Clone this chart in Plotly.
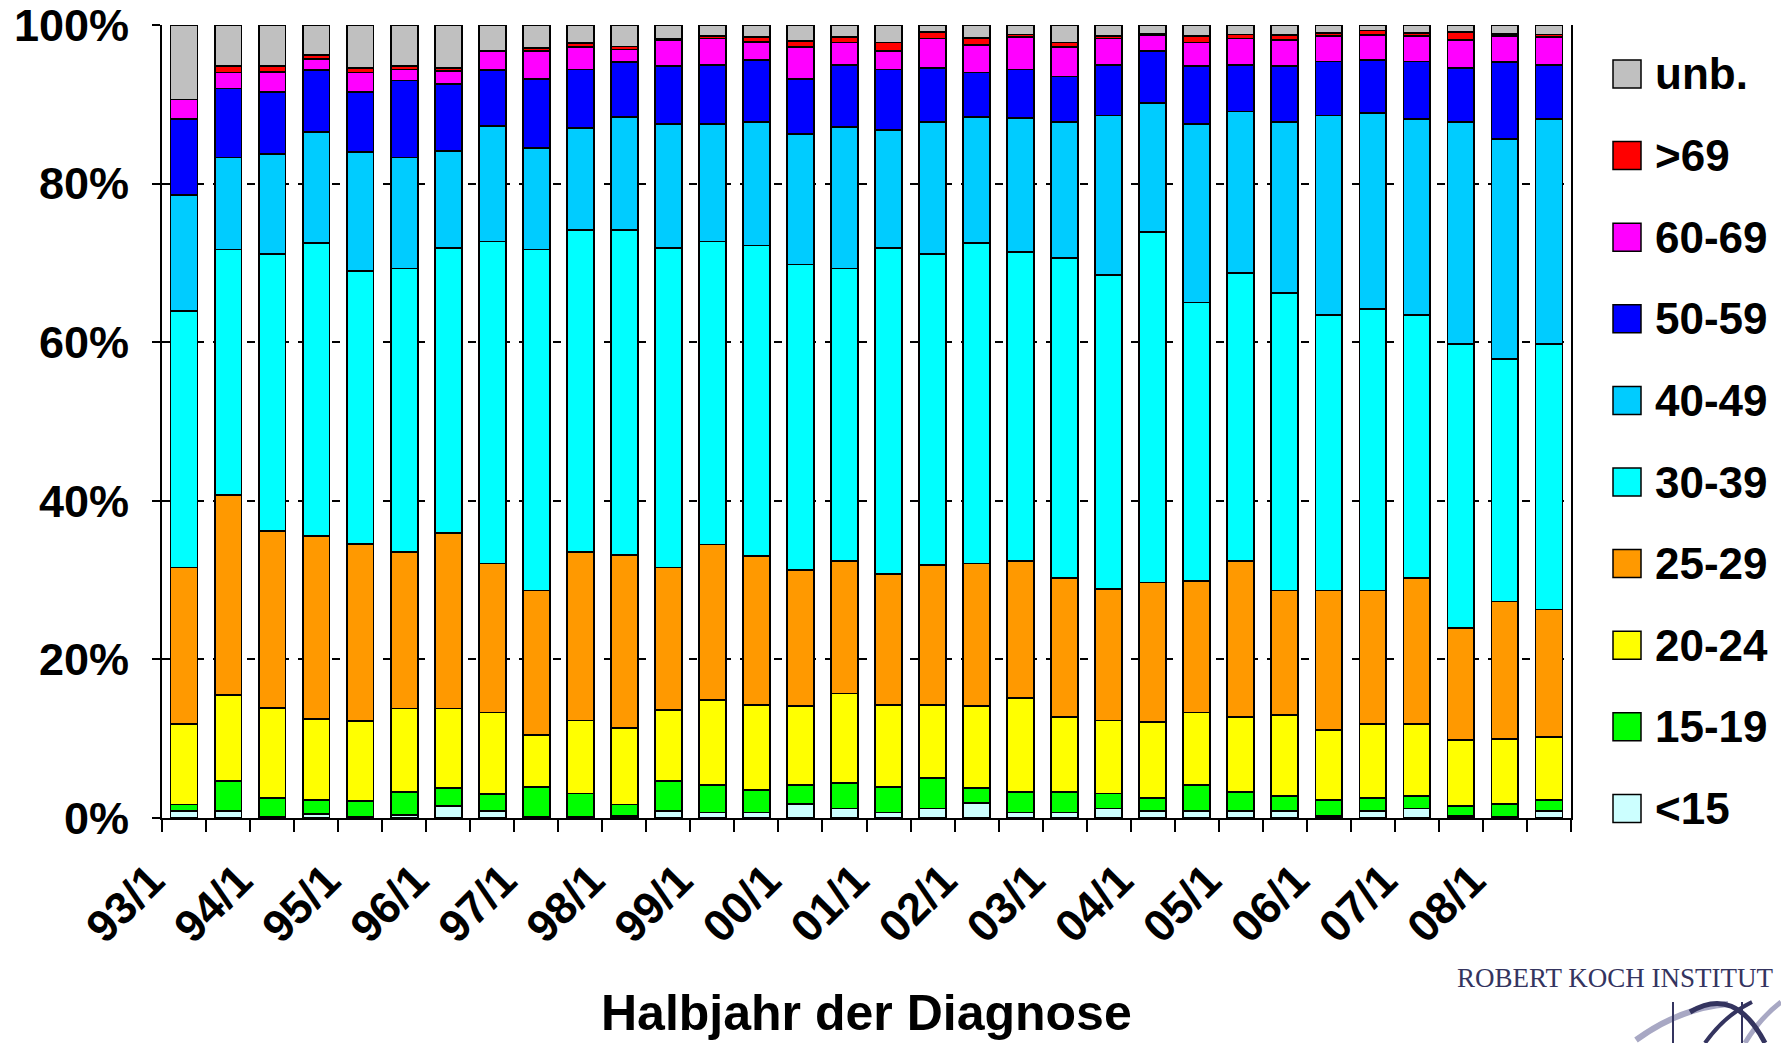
# import libraries
import plotly.graph_objects as go

# half-year labels of the diagnosis (93/1 ... 08/2)
periods = ["93/1", "93/2", "94/1", "94/2", "95/1", "95/2", "96/1", "96/2",
           "97/1", "97/2", "98/1", "98/2", "99/1", "99/2", "00/1", "00/2",
           "01/1", "01/2", "02/1", "02/2", "03/1", "03/2", "04/1", "04/2",
           "05/1", "05/2", "06/1", "06/2", "07/1", "07/2", "08/1", "08/2"]

# only every first half-year gets a label
tick_labels = ["93/1", "94/1", "95/1", "96/1", "97/1", "98/1", "99/1", "00/1",
               "01/1", "02/1", "03/1", "04/1", "05/1", "06/1", "07/1", "08/1"]

# share (%) of each age group per half-year
lt15 = [0.9, 0.9, 0.2, 0.5, 0.2, 0.4, 1.5, 0.9, 0.2, 0.2, 0.3, 0.9, 0.7, 0.7, 1.8, 1.2,
        0.7, 1.2, 1.9, 0.7, 0.7, 1.2, 0.9, 0.9, 0.9, 0.9, 0.3, 0.9, 1.2, 0.3, 0.2, 0.9]
a15_19 = [0.8, 3.8, 2.3, 1.8, 1.9, 2.9, 2.3, 2.1, 3.7, 2.9, 1.4, 3.8, 3.5, 2.8, 2.4, 3.2,
          3.2, 3.8, 1.9, 2.6, 2.6, 1.9, 1.6, 3.3, 2.4, 1.9, 2.0, 1.6, 1.6, 1.2, 1.6, 1.4]
a20_24 = [10.2, 10.8, 11.4, 10.2, 10.1, 10.5, 10.0, 10.3, 6.6, 9.2, 9.7, 8.9, 10.7, 10.8, 9.9, 11.3,
          10.4, 9.3, 10.3, 11.8, 9.4, 9.2, 9.6, 9.1, 9.4, 10.2, 8.8, 9.4, 9.1, 8.3, 8.2, 7.9]
a25_29 = [19.7, 25.2, 22.3, 23.1, 22.4, 19.7, 22.1, 18.8, 18.2, 21.2, 21.8, 18.0, 19.6, 18.7, 17.2, 16.7,
          16.5, 17.6, 18.0, 17.3, 17.6, 16.6, 17.6, 16.6, 19.7, 15.7, 17.6, 16.8, 18.4, 14.2, 17.3, 16.1]
a30_39 = [32.3, 31.0, 34.9, 36.9, 34.4, 35.8, 36.0, 40.6, 43.0, 40.6, 40.9, 40.3, 38.2, 39.2, 38.5, 36.9,
          41.1, 39.2, 40.4, 39.0, 40.3, 39.6, 44.2, 35.1, 36.3, 37.5, 34.7, 35.5, 33.1, 35.8, 30.6, 33.5]
a40_49 = [14.7, 11.6, 12.6, 14.0, 15.0, 14.0, 12.2, 14.6, 12.8, 12.9, 14.3, 15.6, 14.8, 15.6, 16.5, 17.8,
          14.9, 16.7, 15.9, 16.9, 17.2, 20.1, 16.3, 22.5, 20.4, 21.6, 25.2, 24.7, 24.7, 28.0, 27.7, 28.3]
a50_59 = [9.5, 8.7, 7.9, 7.8, 7.6, 9.7, 8.5, 7.0, 8.7, 7.4, 6.9, 7.3, 7.5, 7.8, 6.9, 7.9,
          7.6, 6.8, 5.6, 6.1, 5.7, 6.4, 6.5, 7.3, 5.9, 7.0, 6.8, 6.7, 7.3, 6.8, 9.7, 6.9]
a60_69 = [2.5, 2.0, 2.5, 1.4, 2.4, 1.4, 1.6, 2.4, 3.5, 2.8, 1.6, 3.3, 3.3, 2.3, 4.0, 2.8,
          2.3, 3.7, 3.5, 4.1, 3.7, 3.3, 2.0, 3.0, 3.3, 3.3, 3.2, 3.1, 3.2, 3.5, 3.3, 3.5]
gt69 = [0.0, 0.8, 0.7, 0.5, 0.6, 0.4, 0.4, 0.0, 0.4, 0.5, 0.4, 0.2, 0.3, 0.6, 0.8, 0.7,
        1.1, 0.8, 0.9, 0.3, 0.6, 0.3, 0.2, 0.8, 0.5, 0.6, 0.4, 0.6, 0.4, 1.0, 0.3, 0.3]
unb = [9.4, 5.2, 5.2, 3.8, 5.4, 5.2, 5.4, 3.3, 2.9, 2.3, 2.7, 1.7, 1.4, 1.5, 2.0, 1.5,
       2.2, 0.9, 1.6, 1.2, 2.2, 1.4, 1.1, 1.4, 1.2, 1.3, 1.0, 0.7, 1.0, 0.9, 1.1, 1.2]

# series names and colours, bottom to top of the stack
names = ["<15", "15-19", "20-24", "25-29", "30-39", "40-49", "50-59", "60-69", ">69", "unb."]
colors = ["#CCFFFF", "#00FF00", "#FFFF00", "#FF9900", "#00FFFF",
          "#00CCFF", "#0000FF", "#FF00FF", "#FF0000", "#C0C0C0"]
series = [lt15, a15_19, a20_24, a25_29, a30_39, a40_49, a50_59, a60_69, gt69, unb]

# page size and plot box in pixels
W, H = 1781, 1043
left, right, top, bottom = 162, 1571, 25, 818

def px_x(x):
  return (x - left) / (right - left)

def px_y(y):
  return (bottom - y) / (bottom - top)

font_family = "Liberation Sans, Arial, sans-serif"
navy = "#34345F"

# create figure
fig = go.Figure()

x_pos = list(range(len(periods)))

for name, color, vals in zip(names, colors, series):
  fig.add_trace(go.Bar(
    x = x_pos,
    y = vals,
    name = name,
    customdata = periods,
    marker = dict(color = color, line = dict(color = "black", width = 1.8)),
    width = 0.61,
    showlegend = False,
    hovertemplate = "%{customdata}: %{y}%<extra>" + name + "</extra>"
  ))

# one label every two half-years
tick_pos = [periods.index(t) for t in tick_labels]

fig.update_layout(
  width = W,
  height = H,
  barmode = "stack",
  plot_bgcolor = "white",
  paper_bgcolor = "white",
  margin = dict(l = left, r = W - right, t = top, b = H - bottom, autoexpand = False),
  font = dict(family = font_family, color = "black", size = 40, weight = "bold"),
  xaxis = dict(
    range = [-0.5, len(periods) - 0.5],
    tickmode = "array",
    tickvals = tick_pos,
    ticktext = tick_labels,
    tickangle = -45,
    ticks = "",
    ticklabelstandoff = 16,
    ticklabelshift = -33,      # the text ends left of its bar, as in the original
    ticklabeloverflow = "allow",
    tickfont = dict(size = 45, weight = "bold"),
    showline = True,
    linecolor = "black",
    linewidth = 2,
    showgrid = False,
    zeroline = False,
    minor = dict(tickmode = "linear", tick0 = -0.5, dtick = 1, ticks = "outside",
                 ticklen = 12, tickwidth = 1.5, tickcolor = "black", showgrid = False),
  ),
  yaxis = dict(
    range = [0, 100],
    tickvals = [0, 20, 40, 60, 80, 100],
    ticktext = ["0%", "20%", "40%", "60%", "80%", "100%"],
    ticks = "outside",
    ticklen = 8,
    tickwidth = 1.5,
    tickcolor = "black",
    ticklabelstandoff = 14,
    ticklabeloverflow = "allow",
    tickfont = dict(size = 45, weight = "bold"),
    showline = True,
    mirror = True,
    linecolor = "black",
    linewidth = 2,
    showgrid = True,
    gridcolor = "black",
    gridwidth = 2,
    griddash = "8px,9px",
    zeroline = False,
  ),
)

# x axis title
fig.add_annotation(
  text = "Halbjahr der Diagnose",
  x = px_x(866), y = px_y(1013), xref = "paper", yref = "paper",
  xanchor = "center", yanchor = "middle", showarrow = False,
  font = dict(size = 50, weight = "bold")
)

# hand-made legend with large square keys, top entry first
for k, (name, color) in enumerate(zip(names[::-1], colors[::-1])):
  cy = 74 + k * 81.6
  fig.add_shape(
    type = "rect", xref = "paper", yref = "paper",
    x0 = px_x(1613), x1 = px_x(1641), y0 = px_y(cy + 14), y1 = px_y(cy - 14),
    fillcolor = color, line = dict(color = "black", width = 1.5)
  )
  fig.add_annotation(
    text = name, x = px_x(1653), y = px_y(cy), xref = "paper", yref = "paper",
    xanchor = "left", yanchor = "middle", showarrow = False,
    font = dict(size = 44, weight = "bold")
  )

# institute logo text in the bottom right corner
fig.add_annotation(
  text = "ROBERT KOCH INSTITUT",
  x = px_x(1455), y = px_y(978), xref = "paper", yref = "paper",
  xanchor = "left", yanchor = "middle", showarrow = False,
  font = dict(family = "Liberation Serif, DejaVu Serif, serif", size = 27,
              color = navy, weight = "normal")
)

# curved logo mark below the text
def curve(x0, y0, cx, cy, x1, y1):
  return "M %f %f Q %f %f %f %f" % (px_x(x0), px_y(y0), px_x(cx), px_y(cy), px_x(x1), px_y(y1))

fig.add_shape(type = "path", xref = "paper", yref = "paper",
  path = curve(1636, 1040, 1680, 1008, 1728, 1004), line = dict(color = "#A8A8C4", width = 6))
fig.add_shape(type = "path", xref = "paper", yref = "paper",
  path = curve(1745, 1043, 1760, 1018, 1781, 1002), line = dict(color = "#A8A8C4", width = 5))
fig.add_shape(type = "path", xref = "paper", yref = "paper",
  path = curve(1690, 1012, 1735, 985, 1765, 1043), line = dict(color = navy, width = 5))
fig.add_shape(type = "path", xref = "paper", yref = "paper",
  path = curve(1705, 1043, 1725, 1015, 1752, 1002), line = dict(color = navy, width = 4))
fig.add_shape(type = "line", xref = "paper", yref = "paper",
  x0 = px_x(1673), x1 = px_x(1673), y0 = px_y(1002), y1 = px_y(1043),
  line = dict(color = navy, width = 2))
fig.add_shape(type = "line", xref = "paper", yref = "paper",
  x0 = px_x(1742), x1 = px_x(1742), y0 = px_y(1002), y1 = px_y(1043),
  line = dict(color = navy, width = 2))

# remove the default page margin so the figure starts at the window corner
fig.write_html("out.html", config = {"displayModeBar": False},
               post_script = "document.body.style.margin = '0';")
